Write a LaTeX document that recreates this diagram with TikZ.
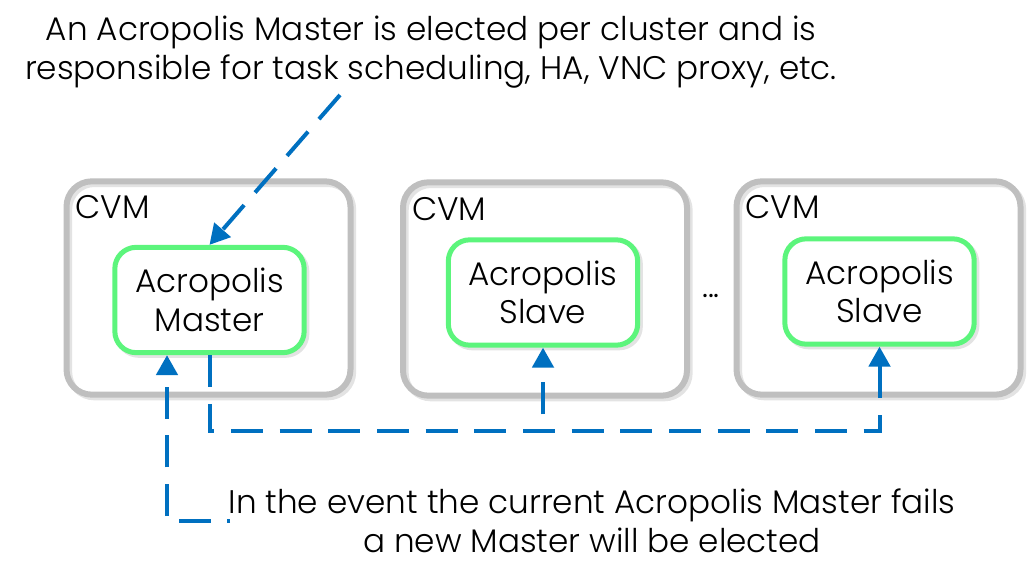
\documentclass[tikz,border=0pt]{standalone}
\usepackage{fontspec}
\setmainfont{Poppins}[UprightFont = * Light]
\usetikzlibrary{arrows.meta,positioning}
\definecolor{cvmgray}{HTML}{BFBFBF}
\definecolor{shadegray}{HTML}{E3E3E3}
\definecolor{acrogreen}{HTML}{5CF57C}
\definecolor{linkblue}{HTML}{0070C0}
\tikzset{
    shade behind/.style = {preaction = {draw = shadegray, transform canvas = {shift = {(2pt,-2pt)}}}},
    cvm/.style = {shade behind, draw = cvmgray, line width = 4.5pt, rounded corners = 19pt, minimum width = 213pt, minimum height = 160pt},
    acro/.style = {shade behind, draw = acrogreen, fill = white, line width = 3.75pt, rounded corners = 16pt, minimum width = 142pt, minimum height = 79pt, align = center},
    link/.style = {draw = linkblue, line width = 3pt, dash pattern = on 24pt off 12.5pt},
    tip/.style = {-{Triangle[length = 15pt, width = 16pt]}}
}
\begin{document}
\begin{tikzpicture}[x = 0.75pt, y = -0.75pt, every node/.append style = {font = \fontsize{24.5}{29}\selectfont}]
        \useasboundingbox (0,0) rectangle (1031,574);
        \node[cvm] (cvm1) at (208.5,288) {};
        \node[cvm] (cvm2) at (545,289) {};
        \node[cvm] (cvm3) at (878.5,288) {};
        \begin{scope}[every node/.append style = {anchor = base west, inner sep = 0pt}]
            \node (tag1) at ([shift = {(9pt,-30.5pt)}]cvm1.north west) {CVM};
            \node (tag2) at ([shift = {(9pt,-30.5pt)}]cvm2.north west) {CVM};
            \node (tag3) at ([shift = {(9pt,-30.5pt)}]cvm3.north west) {CVM};
        \end{scope}
        \node[acro] (master) at (209.5,300) {Acropolis\\Master};
        \node[acro] (slave2) at (543,292.5) {Acropolis\\Slave};
        \node[acro] (slave3) at (879.5,291.5) {Acropolis\\Slave};
        \node (dots) at (711,296) {...};
        \node[align = center] (elect) at (431,52) {An Acropolis Master is elected per cluster and is\\responsible for task scheduling, HA, VNC proxy, etc.};
        \node[align = center] (fails) at (592,521) {In the event the current Acropolis Master fails\\a new Master will be elected};
        \coordinate (from) at (340,95);
        \coordinate (bus) at (0,431);
        \coordinate (back) at (230,521);
        \draw[link, tip] (from) -- (master.north);
        \draw[link, tip] (master.south) |- (bus -| slave3.south) -- (slave3.south);
        \draw[link, tip, dash phase = 24pt] (bus -| slave2.south) -- (slave2.south);
        \draw[link, tip, dash phase = 22pt] (back) -| (master.south -| 167,0);
    \end{tikzpicture}
\end{document}
